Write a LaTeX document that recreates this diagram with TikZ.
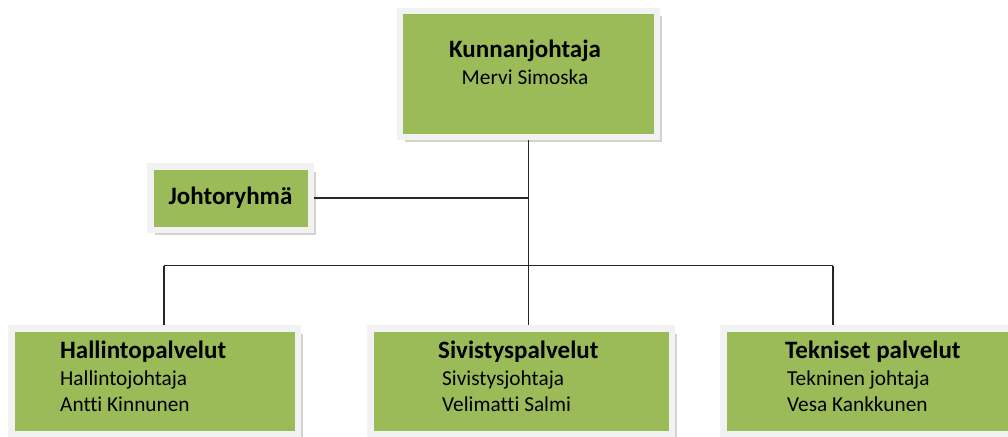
\documentclass[tikz,border=0pt]{standalone}
\usepackage{fontspec}
\setmainfont{Carlito}[Ligatures=NoCommon]
\usetikzlibrary{shadows, positioning}

\definecolor{boxgreen}{HTML}{9BBB59}
\definecolor{framegray}{HTML}{F2F2F2}
\definecolor{shadowgray}{HTML}{D2D4CA}
\definecolor{linegray}{HTML}{262626}

\tikzset{
    orgbox/.style={draw=framegray, line width=6.5pt, fill=boxgreen, inner sep=0pt,
        drop shadow={shadow xshift=4.75pt, shadow yshift=-5.25pt, fill=shadowgray, opacity=1}},
    headtext/.style={inner sep=0pt, font=\fontsize{25}{30}\selectfont\bfseries},
    bodytext/.style={inner sep=0pt, align=left, font=\fontsize{21.3}{26.5}\selectfont},
    orgline/.style={draw=linegray, line width=1.2pt}
}

\begin{document}
\begin{tikzpicture}[x=1pt, y=-1pt]
        \clip (0,0) rectangle (1008,436);

        % boxes
        \node[orgbox, minimum width=257pt, minimum height=125.5pt] (kunta) at (528.5,74) {};
        \node[orgbox, minimum width=160.5pt, minimum height=63.5pt, headtext] (johto) at (230.5,198) {Johtoryhmä};
        \node[orgbox, minimum width=286.5pt, minimum height=105.5pt] (hallinto) at (154.5,381) {};
        \node[orgbox, minimum width=301.5pt, minimum height=105.5pt] (sivistys) at (521,381) {};
        \node[orgbox, minimum width=299.5pt, minimum height=105.5pt] (tekninen) at (873,381) {};

        % texts
        \node[bodytext, align=center, anchor=north] (kuntatext) at (525,40)
            {{\fontsize{25}{26}\selectfont\bfseries Kunnanjohtaja}\\Mervi Simoska};
        \node[bodytext, anchor=north west] (hallintotext) at (60,341)
            {{\fontsize{25}{26}\selectfont\bfseries Hallintopalvelut}\\Hallintojohtaja\\Antti Kinnunen};
        \node[bodytext, anchor=north west] (sivistystext) at (438,341)
            {{\fontsize{25}{26}\selectfont\bfseries Sivistyspalvelut}\\\hspace{4pt}Sivistysjohtaja\\\hspace{4pt}Velimatti Salmi};
        \node[bodytext, anchor=north west] (tekninentext) at (785,341)
            {{\fontsize{25}{26}\selectfont\bfseries Tekniset palvelut}\\\hspace{2pt}Tekninen johtaja\\\hspace{2pt}Vesa Kankkunen};

        % connectors
        \coordinate (busleft) at (164,265.5);
        \coordinate (busright) at (833,265.5);
        \draw[orgline] (kunta.south) -- (kunta.south |- sivistys.north);
        \draw[orgline] (johto.east) -- (johto.east -| kunta.south);
        \draw[orgline] (busleft) -- (busright);
        \draw[orgline] (busleft) -- (busleft |- hallinto.north);
        \draw[orgline] (busright) -- (busright |- tekninen.north);
\end{tikzpicture}
\end{document}
